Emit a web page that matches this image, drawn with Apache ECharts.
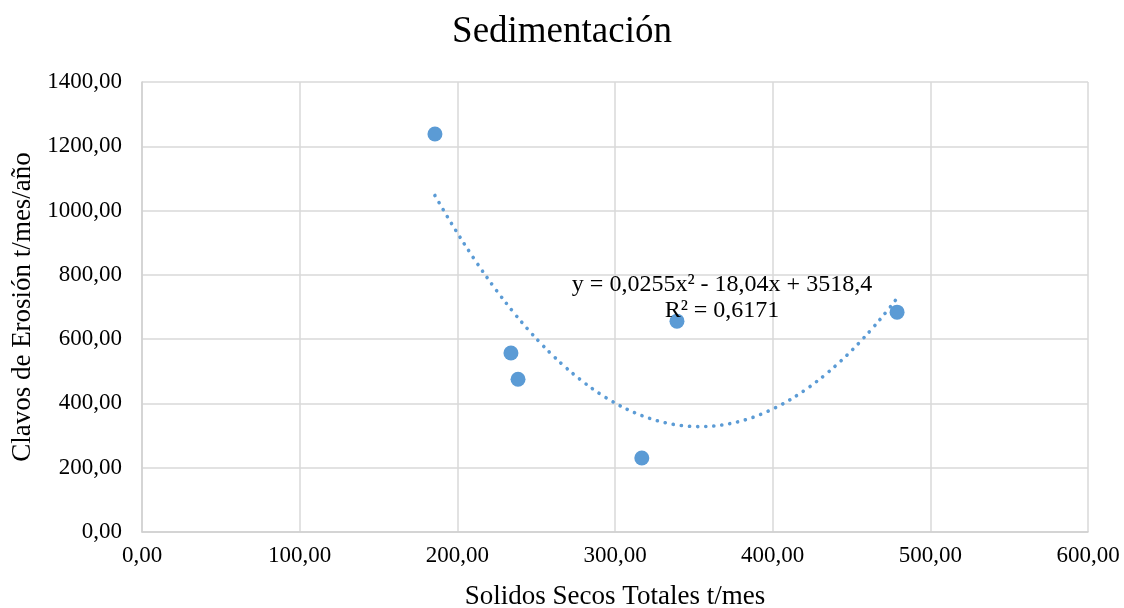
<!DOCTYPE html>
<html>
<head>
<meta charset="utf-8">
<script src="https://cdn.jsdelivr.net/npm/echarts@6/dist/echarts.min.js"></script>
<style>
  html, body { margin: 0; padding: 0; background: #fff; }
  #chart { width: 1124px; height: 608px; }
</style>
</head>
<body>
<div id="chart"></div>
<script>
// Sólidos secos totales (t/mes) vs. clavos de erosión (t/mes/año)
var solidosSecos = [185.8, 234.0, 238.5, 317.0, 339.3, 478.9];
var clavosErosion = [1238, 557, 475, 230, 656, 684];

// Polynomial trend line (order 2): y = a*x^2 + b*x + c
var trendCoef = [0.0255, -18.04, 3518.4];
var trendLabel = ['y = 0,0255x² - 18,04x + 3518,4', 'R² = 0,6171'];

var xTicks = [0, 100, 200, 300, 400, 500, 600];
var yTicks = [0, 200, 400, 600, 800, 1000, 1200, 1400];

var points = solidosSecos.map(function (x, i) { return [x, clavosErosion[i]]; });

// trend curve evaluated over the data range
var xMin = Math.min.apply(null, solidosSecos);
var xMax = Math.max.apply(null, solidosSecos);
var trend = [];
for (var x = xMin; x <= xMax + 1e-9; x += (xMax - xMin) / 120) {
  trend.push([x, trendCoef[0] * x * x + trendCoef[1] * x + trendCoef[2]]);
}

function fmt(v) { return v.toFixed(2).replace('.', ','); }

var serif = '"Liberation Serif", "Times New Roman", serif';
var chart = echarts.init(document.getElementById('chart'), null, { renderer: 'canvas' });

chart.setOption({
  backgroundColor: '#ffffff',
  animation: false,
  textStyle: { fontFamily: serif },
  title: {
    text: 'Sedimentación',
    left: 'center',
    top: 9,
    textStyle: { fontFamily: serif, fontSize: 37, fontWeight: 'normal', color: '#000' }
  },
  grid: { left: 142, right: 36, top: 82, bottom: 76, containLabel: false, outerBoundsMode: 'none' },
  xAxis: {
    type: 'value',
    min: xTicks[0],
    max: xTicks[xTicks.length - 1],
    interval: 100,
    name: 'Solidos Secos Totales t/mes',
    nameLocation: 'middle',
    nameGap: 51,
    nameTextStyle: { fontFamily: serif, fontSize: 27, color: '#000' },
    axisLine: { show: true, lineStyle: { color: '#d0d0d0', width: 1.5 } },
    axisTick: { show: false },
    axisLabel: { formatter: fmt, fontFamily: serif, fontSize: 23, color: '#000', margin: 12 },
    splitLine: { show: true, lineStyle: { color: '#d9d9d9', width: 1.5 } }
  },
  yAxis: {
    type: 'value',
    min: yTicks[0],
    max: yTicks[yTicks.length - 1],
    interval: 200,
    name: 'Clavos de Erosión t/mes/año',
    nameLocation: 'middle',
    nameGap: 106,
    nameRotate: 90,
    nameTextStyle: { fontFamily: serif, fontSize: 27, color: '#000' },
    axisLine: { show: true, lineStyle: { color: '#d0d0d0', width: 1.5 } },
    axisTick: { show: false },
    axisLabel: { formatter: fmt, fontFamily: serif, fontSize: 23, color: '#000', margin: 20 },
    splitLine: { show: true, lineStyle: { color: '#d9d9d9', width: 1.5 } }
  },
  series: [
    {
      type: 'line',
      data: trend,
      showSymbol: false,
      smooth: true,
      z: 2,
      lineStyle: { color: '#5B9BD5', width: 3.6, type: [0.1, 8], cap: 'round' }
    },
    {
      type: 'scatter',
      data: points,
      symbol: 'circle',
      symbolSize: 15,
      z: 3,
      itemStyle: { color: '#5B9BD5', opacity: 1 }
    }
  ],
  graphic: [
    {
      type: 'text',
      x: 722,
      y: 272,
      z: 10,
      style: {
        text: trendLabel.join('\n'),
        align: 'center',
        verticalAlign: 'top',
        font: '24px ' + serif,
        fill: '#000',
        lineHeight: 26
      }
    }
  ]
});
</script>
</body>
</html>
